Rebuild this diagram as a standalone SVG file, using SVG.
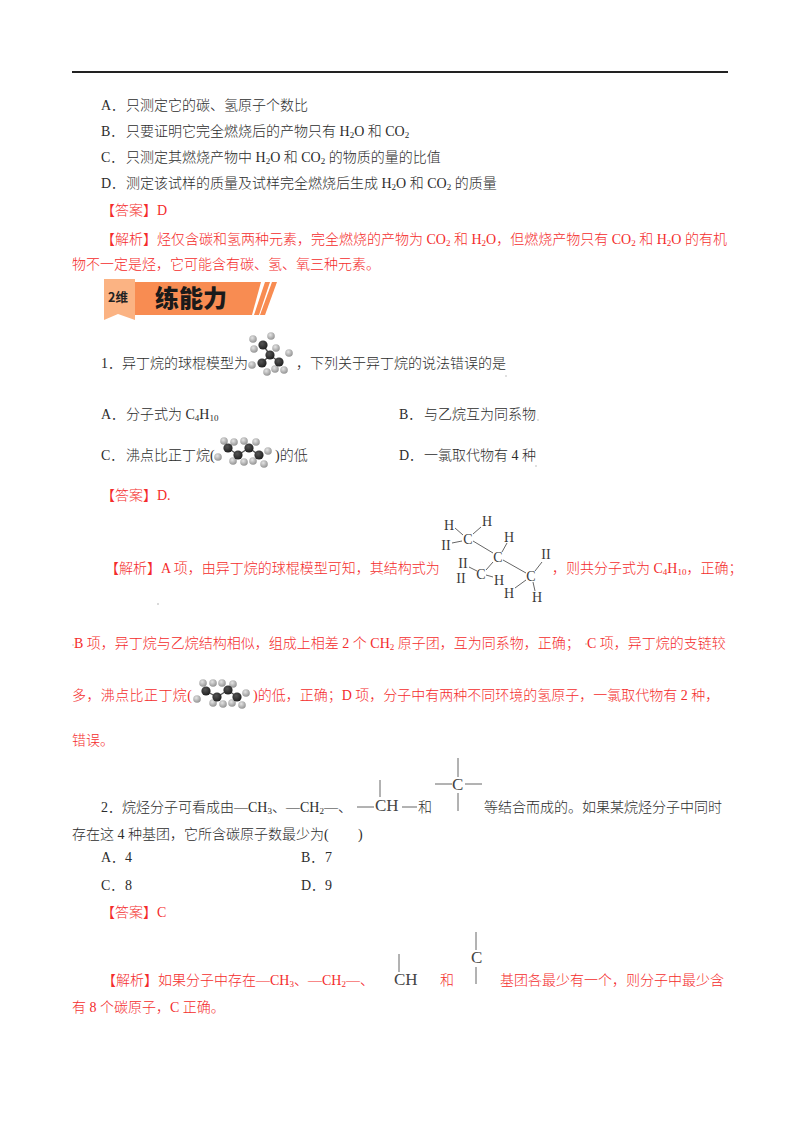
<svg xmlns="http://www.w3.org/2000/svg" width="800" height="1132" viewBox="0 0 800 1132">
<style>
text{font-family:"Liberation Serif","Noto Sans CJK SC",serif;font-size:14px;fill:#2c2c2c;font-weight:300;white-space:pre}
.r{fill:#f42c2c}
.s{font-size:9px}
.rb{stroke:#666;stroke-width:1;fill:none}
.st{stroke:#555;stroke-width:1.4;fill:none}
.f{font-size:14px;fill:#3a3a3a;text-anchor:middle}
.g{font-size:17px;fill:#444}
</style>
<defs>
<radialGradient id="dk" cx=".4" cy=".35" r=".7"><stop offset="0" stop-color="#555"/><stop offset="1" stop-color="#1c1c1c"/></radialGradient>
<radialGradient id="lt" cx=".4" cy=".35" r=".7"><stop offset="0" stop-color="#e4e4e4"/><stop offset="1" stop-color="#8e8e8e"/></radialGradient>
<filter id="soft"><feGaussianBlur stdDeviation=".5"/></filter>
<circle id="c" r="4.6" fill="url(#dk)"/>
<circle id="h" r="3.8" fill="url(#lt)"/>
</defs>
<rect width="800" height="1132" fill="#fff"/>
<line x1="72" y1="72" x2="728" y2="72" stroke="#222" stroke-width="2"/>
<g id="options-top">
<text x="101" y="110">A．<tspan x="126">只测定它的碳、氢原子个数比</tspan></text>
<text x="101" y="136">B．<tspan x="126">只要证明它完全燃烧后的产物只有 H</tspan><tspan class="s" dy="2">2</tspan><tspan dy="-2">O 和 CO</tspan><tspan class="s" dy="2">2</tspan></text>
<text x="101" y="162">C．<tspan x="126">只测定其燃烧产物中 H</tspan><tspan class="s" dy="2">2</tspan><tspan dy="-2">O 和 CO</tspan><tspan class="s" dy="2">2</tspan><tspan dy="-2"> 的物质的量的比值</tspan></text>
<text x="101" y="188">D．<tspan x="126">测定该试样的质量及试样完全燃烧后生成 H</tspan><tspan class="s" dy="2">2</tspan><tspan dy="-2">O 和 CO</tspan><tspan class="s" dy="2">2</tspan><tspan dy="-2"> 的质量</tspan></text>
</g>
<g id="answer-top">
<text class="r" x="101" y="215">【答案】D</text>
<text class="r" x="101" y="244">【解析】烃仅含碳和氢两种元素，完全燃烧的产物为 CO<tspan class="s" dy="2">2</tspan><tspan dy="-2"> 和 H</tspan><tspan class="s" dy="2">2</tspan><tspan dy="-2">O，但燃烧产物只有 CO</tspan><tspan class="s" dy="2">2</tspan><tspan dy="-2"> 和 H</tspan><tspan class="s" dy="2">2</tspan><tspan dy="-2">O 的有机</tspan></text>
<text class="r" x="72" y="269">物不一定是烃，它可能含有碳、氢、氧三种元素。</text>
</g>
<g id="banner">
<path d="M104 279 H135 V320 L118 314 L104 320Z" fill="#fbb383"/>
<path d="M135 282 H261 L252 315 H135Z" fill="#f88c52"/>
<path d="M265 282 H270 L259 315 H254Z" fill="#f88c52"/>
<path d="M272 282 H277 L265 315 H260Z" fill="#f88c52"/>
<text x="108" y="302" style="font-family:'Noto Sans CJK SC',sans-serif;font-size:12.5px;font-weight:700;fill:#222">2维</text>
<text x="155" y="307" style="font-family:'Noto Sans CJK SC',sans-serif;font-size:24px;font-weight:900;fill:#1a1a1a">练能力</text>
</g>
<g id="q1">
<text x="101" y="368">1．<tspan x="122">异丁烷的球棍模型为</tspan></text>
<text x="296" y="368">，下列关于异丁烷的说法错误的是</text>
<text x="101" y="419">A．<tspan x="126">分子式为 C</tspan><tspan class="s" dy="2">4</tspan><tspan dy="-2">H</tspan><tspan class="s" dy="2">10</tspan></text>
<text x="399" y="419">B．<tspan x="424">与乙烷互为同系物</tspan></text>
<text x="101" y="460">C．<tspan x="126">沸点比正丁烷(</tspan></text>
<text x="275" y="460">)的低</text>
<text x="399" y="460">D．<tspan x="424">一氯取代物有 4 种</tspan></text>
<text class="r" x="101" y="500">【答案】D.</text>
</g>
<g id="model-iso" filter="url(#soft)">
<use href="#h" x="253" y="339"/><use href="#h" x="271" y="336"/><use href="#h" x="254" y="349"/><use href="#h" x="276" y="348"/>
<use href="#h" x="289" y="353"/><use href="#h" x="252" y="365"/><use href="#h" x="275" y="369"/><use href="#h" x="284" y="370"/><use href="#h" x="267" y="372"/>
<path class="st" d="M263 345L270 355L262 363M270 355L279 362"/>
<use href="#c" x="263" y="345"/><use href="#c" x="270" y="355"/><use href="#c" x="262" y="363"/><use href="#c" x="279" y="362"/>
</g>
<g id="model-n" filter="url(#soft)">
<use href="#h" x="224" y="441"/><use href="#h" x="234" y="442"/><use href="#h" x="244" y="441"/><use href="#h" x="256" y="442"/>
<use href="#h" x="218" y="457"/><use href="#h" x="233" y="461"/><use href="#h" x="244" y="462"/><use href="#h" x="253" y="461"/><use href="#h" x="264" y="464"/><use href="#h" x="268" y="451"/>
<path class="st" d="M228 448L238 455L249 448L259 455"/>
<use href="#c" x="228" y="448"/><use href="#c" x="238" y="455"/><use href="#c" x="249" y="448"/><use href="#c" x="259" y="455"/>
</g>
<g id="analysis-1">
<text class="r" x="105" y="573">【解析】A 项，由异丁烷的球棍模型可知，其结构式为</text>
<text class="r" x="552" y="573">，则共分子式为 C<tspan class="s" dy="2">4</tspan><tspan dy="-2">H</tspan><tspan class="s" dy="2">10</tspan><tspan dy="-2">，正确；</tspan></text>
<text class="r" x="74" y="648">B 项，异丁烷与乙烷结构相似，组成上相差 2 个 CH<tspan class="s" dy="2">2</tspan><tspan dy="-2"> 原子团，互为同系物，正确；</tspan></text>
<text class="r" x="587" y="648">C 项，异丁烷的支链较</text>
<text class="r" x="72" y="700" letter-spacing=".4">多，沸点比正丁烷(</text>
<text class="r" x="253" y="700">)的低，正确；D 项，分子中有两种不同环境的氢原子，一氯取代物有 2 种，</text>
<text class="r" x="72" y="745">错误。</text>
</g>
<g id="structure-iso">
<path class="rb" d="M455 528L463 535M481 527L473 534M452 543L462 541M473 541L493 553M507 543L502 552M493 562L486 570M469 567L477 571M486 575L493 577M503 560L526 573M542 562L535 571M515 588L526 580M533 582L535 591"/>
<text class="f" x="449" y="530">H</text><text class="f" x="487" y="526">H</text><text class="f" x="446" y="550">II</text><text class="f" x="468" y="544">C</text>
<text class="f" x="509" y="542">H</text><text class="f" x="498" y="562">C</text><text class="f" x="463" y="568">II</text><text class="f" x="461" y="583">II</text>
<text class="f" x="481" y="579">C</text><text class="f" x="499" y="585">H</text><text class="f" x="546" y="559">II</text><text class="f" x="531" y="581">C</text>
<text class="f" x="509" y="598">H</text><text class="f" x="537" y="602">H</text>
</g>
<g id="q2">
<text x="101" y="812">2．<tspan x="122">烷烃分子可看成由—CH</tspan><tspan class="s" dy="2">3</tspan><tspan dy="-2">、—CH</tspan><tspan class="s" dy="2">2</tspan><tspan dy="-2">—、</tspan></text>
<text x="418" y="812">和</text>
<text x="484" y="812">等结合而成的。如果某烷烃分子中同时</text>
<text x="72" y="839">存在这 4 种基团，它所含碳原子数最少为(</text><text x="358" y="839">)</text>
<text x="101" y="862">A．<tspan x="125">4</tspan></text><text x="301" y="862">B．<tspan x="325">7</tspan></text>
<text x="101" y="890">C．<tspan x="125">8</tspan></text><text x="301" y="890">D．<tspan x="325">9</tspan></text>
<text class="r" x="101" y="917">【答案】C</text>
</g>
<g id="group-ch">
<path class="rb" d="M380 780V797M357 807H374M402 807H417"/>
<text class="g" x="375" y="811">CH</text>
</g>
<g id="group-c">
<path class="rb" d="M458 758V777M458 793V811M435 784H452M465 784H482"/>
<text class="g" x="452" y="790">C</text>
</g>
<g id="analysis-2">
<text class="r" x="102" y="985">【解析】如果分子中存在—CH<tspan class="s" dy="2">3</tspan><tspan dy="-2">、—CH</tspan><tspan class="s" dy="2">2</tspan><tspan dy="-2">—、</tspan></text>
<text class="r" x="440" y="985">和</text>
<text class="r" x="500" y="985">基团各最少有一个，则分子中最少含</text>
<text class="r" x="72" y="1012">有 8 个碳原子，C 正确。</text>
<path class="rb" d="M399 954V972"/>
<text class="g" x="394" y="985">CH</text>
<path class="rb" d="M476 932V950M476 967V984"/>
<text class="g" x="471" y="963">C</text>
</g>
<g id="model-n2" filter="url(#soft)">
<use href="#h" x="203" y="683"/><use href="#h" x="213" y="683"/><use href="#h" x="222" y="683"/><use href="#h" x="233" y="684"/>
<use href="#h" x="197" y="699"/><use href="#h" x="213" y="703"/><use href="#h" x="223" y="704"/><use href="#h" x="232" y="703"/><use href="#h" x="242" y="705"/><use href="#h" x="246" y="693"/>
<path class="st" d="M206 691L217 697L228 690L237 697"/>
<use href="#c" x="206" y="691"/><use href="#c" x="217" y="697"/><use href="#c" x="228" y="690"/><use href="#c" x="237" y="697"/>
</g>
<g id="specks" fill="#aaa">
<circle cx="506" cy="376" r=".7"/><circle cx="538" cy="420" r=".7"/><circle cx="536" cy="466" r=".7"/><circle cx="158" cy="604" r=".8"/><circle cx="73" cy="645" r=".7"/><circle cx="586" cy="644" r=".8"/>
</g>
</svg>
